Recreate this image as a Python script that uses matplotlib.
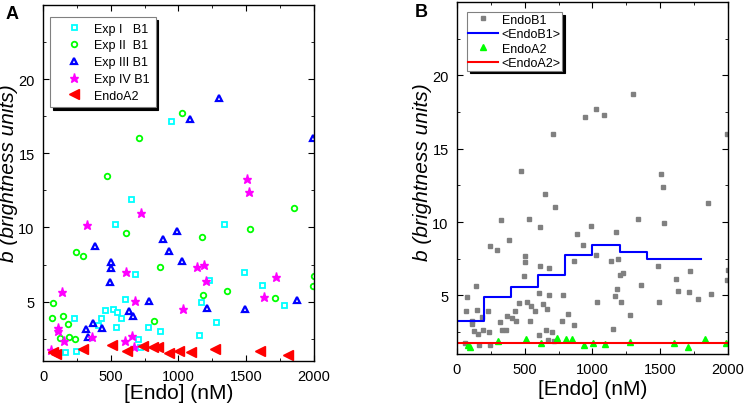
import matplotlib
matplotlib.use('Agg')
import matplotlib.pyplot as plt
from matplotlib.ticker import MultipleLocator
import numpy as np

plt.rcParams['font.family'] = ['Liberation Sans', 'DejaVu Sans']

# Panel A data: [Endo] (nM) and brightness b for each experiment
exp1_x = [942, 652, 529, 1336, 677, 1481, 1223, 1619, 603, 1164, 1776, 226, 406, 428,
          460, 517, 549, 573, 541, 775, 861, 1279, 1149, 701, 713, 246, 160]
exp1_y = [17.15, 11.9, 10.2, 10.2, 6.87, 7.0, 6.49, 6.1, 5.18, 4.97, 4.77, 3.9, 3.45, 3.92,
          4.46, 4.53, 4.3, 3.9, 3.27, 3.27, 3.0, 3.65, 2.73, 2.48, 1.92, 1.64, 1.58]

exp2_x = [1028, 708, 470, 1850, 610, 1525, 1176, 241, 295, 861, 2000, 1993, 1358, 1181,
          1710, 74, 69, 145, 187, 817, 123, 194, 238]
exp2_y = [17.7, 16.0, 13.5, 11.3, 9.64, 9.9, 9.35, 8.36, 8.06, 7.34, 6.76, 6.04, 5.70, 5.45,
          5.22, 4.89, 3.9, 4.01, 3.51, 3.7, 2.57, 2.61, 2.48]

exp3_x = [1087, 1299, 1993, 991, 886, 930, 381, 499, 499, 1028, 494, 780, 1213, 1493,
          1872, 637, 662, 317, 330, 371, 438]
exp3_y = [17.3, 18.7, 16.0, 9.75, 9.2, 8.4, 8.74, 7.66, 7.27, 7.72, 6.35, 5.05, 4.57, 4.53,
          5.09, 4.39, 4.05, 3.16, 2.61, 3.56, 3.24]

exp4_x = [1503, 1523, 721, 327, 1137, 1191, 610, 1203, 1720, 140, 1631, 679, 1031, 113,
          113, 155, 364, 657, 607, 672, 59]
exp4_y = [13.3, 12.4, 11.0, 10.16, 7.34, 7.48, 6.98, 6.42, 6.64, 5.63, 5.29, 5.05, 4.53, 3.22,
          3.04, 2.36, 2.61, 2.66, 2.32, 1.96, 1.76]

a2_x = [76, 96, 298, 509, 617, 736, 809, 851, 932, 1004, 1090, 1272, 1601, 1806]
a2_y = [1.6, 1.47, 1.8, 2.05, 1.69, 2.03, 1.94, 1.94, 1.57, 1.69, 1.62, 1.78, 1.69, 1.42]

# Panel B data
a2b_x = [81, 98, 300, 509, 617, 738, 805, 849, 935, 1006, 1090, 1274, 1601, 1707, 1828, 1988]
a2b_y = [1.58, 1.49, 1.87, 2.05, 1.78, 2.1, 2.0, 2.03, 1.64, 1.76, 1.69, 1.85, 1.78, 1.46, 2.05, 1.76]

b1_bins = [0, 200, 400, 600, 800, 1000, 1200, 1400, 1800]
b1_mean = [3.27, 4.89, 5.56, 6.37, 7.77, 8.45, 7.97, 7.5]
a2_bins = [0, 1200, 2000]
a2_mean = [1.78, 1.72]

fig = plt.figure(figsize=(7.44, 4.06), dpi=100)
axA = fig.add_axes([0.0578, 0.1084, 0.3642, 0.877])
axB = fig.add_axes([0.6142, 0.1256, 0.3642, 0.867])

axA.plot(exp1_x, exp1_y, ls='none', marker='s', ms=3.6, mfc='white', mec='#00FFFF', mew=1.3, label='Exp I   B1')
axA.plot(exp2_x, exp2_y, ls='none', marker='o', ms=4, mfc='white', mec='#00FF00', mew=1.3, label='Exp II  B1')
axA.plot(exp3_x, exp3_y, ls='none', marker='^', ms=5, mfc='white', mec='#0000FF', mew=1.6, label='Exp III B1')
axA.plot(exp4_x, exp4_y, ls='none', marker='*', ms=6.5, color='#FF00FF', label='Exp IV B1')
axA.plot(a2_x, a2_y, ls='none', marker='<', ms=7, color='#FF0000', label='EndoA2')

b1_x = exp1_x + exp2_x + exp3_x + exp4_x
b1_y = exp1_y + exp2_y + exp3_y + exp4_y
axB.plot(b1_x, b1_y, ls='none', marker='s', ms=3.3, color='#808080', label='EndoB1')
axB.step(b1_bins, b1_mean + [b1_mean[-1]], where='post', color='#0000FF', lw=1.5, label='<EndoB1>')
axB.plot(a2b_x, a2b_y, ls='none', marker='^', ms=4.5, color='#00FF00', label='EndoA2')
axB.step(a2_bins, a2_mean + [a2_mean[-1]], where='post', color='#FF0000', lw=1.5, label='<EndoA2>')

for ax in (axA, axB):
    ax.set_xlim(0, 2000)
    ax.set_ylim(1, 25)
    ax.xaxis.set_major_locator(MultipleLocator(500))
    ax.xaxis.set_minor_locator(MultipleLocator(250))
    ax.yaxis.set_major_locator(MultipleLocator(5))
    ax.yaxis.set_minor_locator(MultipleLocator(2.5))
    ax.set_yticks([5, 10, 15, 20])
    ax.tick_params(which='both', direction='in', top=True, right=True, labelsize=10.5, pad=6)
    ax.tick_params(which='major', length=4)
    ax.tick_params(which='minor', length=2.5)
    for s in ax.spines.values():
        s.set_linewidth(1.0)
    ax.set_xlabel('[Endo] (nM)', fontsize=15)
    ax.set_ylabel('b (brightness units)', fontsize=15, style='italic')

axA.xaxis.set_label_coords(0.5, -0.062)
axA.yaxis.set_label_coords(-0.092, 0.53)
axB.xaxis.set_label_coords(0.5, -0.07)
axB.yaxis.set_label_coords(-0.092, 0.52)

shadow = {'color': 'black', 'alpha': 1.0}
legA = axA.legend(loc='upper left', bbox_to_anchor=(0.026, 0.966), borderaxespad=0, fontsize=9,
                  frameon=True, fancybox=False, shadow=shadow, handlelength=3.0,
                  handletextpad=0.1, labelspacing=0.38, borderpad=0.45, framealpha=1)
legA.get_frame().set_edgecolor('0.5')
legA.get_frame().set_linewidth(0.8)

legB = axB.legend(loc='upper left', bbox_to_anchor=(0.037, 0.971), borderaxespad=0, fontsize=9,
                  frameon=True, fancybox=False, shadow=shadow, handlelength=2.4,
                  handletextpad=0.25, labelspacing=0.2, borderpad=0.12, framealpha=1)
legB.get_frame().set_edgecolor('0.5')
legB.get_frame().set_linewidth(0.8)

fig.text(0.007, 0.985, 'A', fontsize=13, fontweight='bold', va='top')
fig.text(0.558, 0.99, 'B', fontsize=13, fontweight='bold', va='top')

fig.savefig('out.png', dpi=100, facecolor='white')
